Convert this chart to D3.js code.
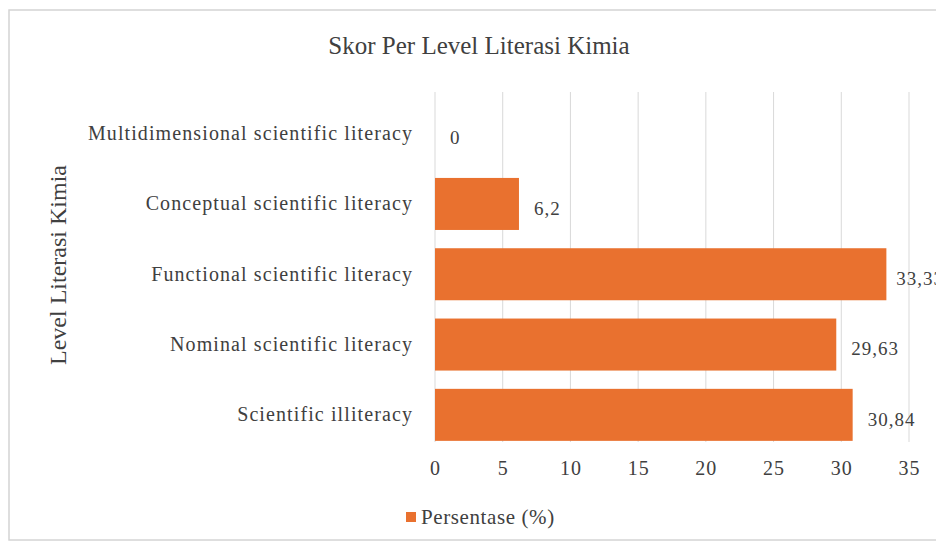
<!DOCTYPE html>
<html>
<head>
<meta charset="utf-8">
<script src="https://cdn.jsdelivr.net/npm/d3@7"></script>
<style>
  body { margin: 0; background: #fff; }
  text { font-family: "Liberation Serif", "Times New Roman", serif; fill: #404040; }
</style>
</head>
<body>
<script>
const categories = [
  "Multidimensional scientific literacy",
  "Conceptual scientific literacy",
  "Functional scientific literacy",
  "Nominal scientific literacy",
  "Scientific illiteracy"
];
const values = [0, 6.2, 33.33, 29.63, 30.84];
const xTicks = [0, 5, 10, 15, 20, 25, 30, 35];
const title = "Skor Per Level Literasi Kimia";
const yTitle = "Level Literasi Kimia";
const seriesName = "Persentase (%)";

const w = 936;
const h = 544;
const barColor = "#E9712F";
const chartRight = 944;

const svg = d3.select("body")
  .append("svg")
  .attr("width", w)
  .attr("height", h);

// chart frame
svg.append("rect")
  .attr("x", 9)
  .attr("y", 10)
  .attr("width", 940)
  .attr("height", 530)
  .attr("fill", "#fff")
  .attr("stroke", "#d4d4d4")
  .attr("stroke-width", 1.5);

const x = d3.scaleLinear().domain([0, 35]).range([435, 909]);
const y = d3.scaleBand().domain(categories).range([98.5, 450]).paddingInner(0.26).paddingOuter(0.13);

// gridlines
svg.append("g")
  .selectAll("line")
  .data(xTicks)
  .enter()
  .append("line")
  .attr("x1", (d) => x(d))
  .attr("x2", (d) => x(d))
  .attr("y1", 92)
  .attr("y2", 442)
  .attr("stroke", "#d9d9d9")
  .attr("stroke-width", 1);

// x axis labels
const xAxis = d3.axisBottom(x).tickValues(xTicks).tickSize(0).tickPadding(0);
const gx = svg.append("g")
  .attr("transform", "translate(0,468)")
  .call(xAxis);
gx.select(".domain").remove();
gx.selectAll("text")
  .attr("dy", "0.35em")
  .style("font-size", "20px")
  .style("letter-spacing", "1px")
  .style("fill", "#404040");

// y axis labels
const yAxis = d3.axisLeft(y).tickSize(0).tickPadding(22);
const gy = svg.append("g")
  .attr("transform", "translate(435,0)")
  .call(yAxis);
gy.select(".domain").remove();
gy.selectAll("text")
  .style("font-size", "20px")
  .style("letter-spacing", "1.1px")
  .style("fill", "#404040");

// bars
svg.append("g")
  .selectAll("rect")
  .data(values)
  .enter()
  .append("rect")
  .attr("x", x(0))
  .attr("y", (d, i) => y(categories[i]))
  .attr("width", (d) => x(d) - x(0))
  .attr("height", y.bandwidth())
  .attr("fill", barColor);

// data labels
svg.append("g")
  .selectAll("text")
  .data(values)
  .enter()
  .append("text")
  .text((d) => String(d).replace(".", ","))
  .attr("y", (d, i) => y(categories[i]) + y.bandwidth() / 2 + 4)
  .attr("dy", "0.35em")
  .style("font-size", "19px")
  .style("letter-spacing", "1px")
  .attr("x", function (d) {
    const len = this.getComputedTextLength();
    return Math.min(x(d) + 15, chartRight - len);
  });

// title
svg.append("text")
  .attr("x", 479)
  .attr("y", 45)
  .attr("dy", "0.35em")
  .attr("text-anchor", "middle")
  .style("font-size", "25px")
  .text(title);

// y axis title
svg.append("text")
  .attr("transform", "translate(58,265) rotate(-90)")
  .attr("dy", "0.35em")
  .attr("text-anchor", "middle")
  .style("font-size", "24px")
  .text(yTitle);

// legend
svg.append("rect")
  .attr("x", 406)
  .attr("y", 512)
  .attr("width", 10)
  .attr("height", 10)
  .attr("fill", barColor);
svg.append("text")
  .attr("x", 421)
  .attr("y", 517)
  .attr("dy", "0.35em")
  .style("font-size", "21px")
  .style("letter-spacing", "0.6px")
  .text(seriesName);
</script>
</body>
</html>
